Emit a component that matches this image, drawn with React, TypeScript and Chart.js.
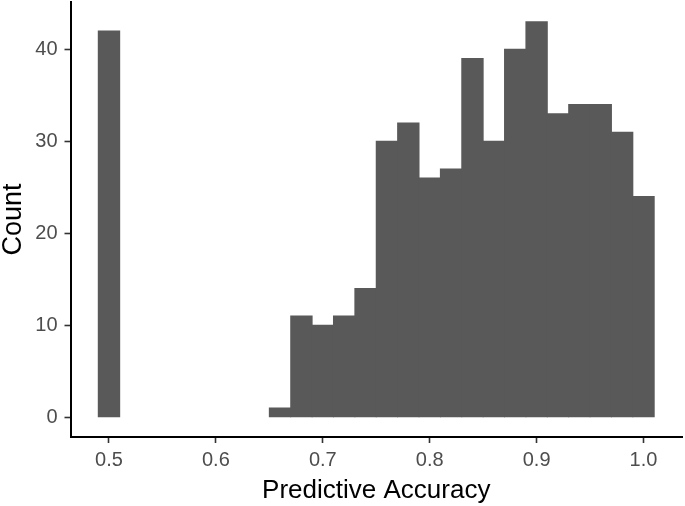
import React, { useEffect, useRef } from "react";
import { Chart, registerables } from "chart.js";

Chart.register(...registerables);

// Histogram bins (centres, binwidth 0.02) and counts
const binCenters = [0.5, 0.66, 0.68, 0.7, 0.72, 0.74, 0.76, 0.78, 0.8, 0.82, 0.84, 0.86, 0.88, 0.9, 0.92, 0.94, 0.96, 0.98, 1.0];
const counts = [42, 1, 11, 10, 11, 14, 30, 32, 26, 27, 39, 30, 40, 43, 33, 34, 34, 31, 24];
const xTicks = [0.5, 0.6, 0.7, 0.8, 0.9, 1.0];
const yTicks = [0, 10, 20, 30, 40];
const xTitle = "Predictive Accuracy";
const yTitle = "Count";

const FONT = "'Liberation Sans', Arial, Helvetica, sans-serif";

export default function App() {
  const ref = useRef<HTMLCanvasElement | null>(null);

  useEffect(() => {
    document.body.style.margin = "0";
    const canvas = ref.current;
    if (!canvas) return;
    const chart = new Chart(canvas, {
      type: "bar",
      data: {
        datasets: [
          {
            data: binCenters.map((x, i) => ({ x, y: counts[i] })),
            backgroundColor: "#595959",
            borderWidth: 0,
            inflateAmount: 0.5,
            barPercentage: 1,
            categoryPercentage: 1,
          },
        ],
      },
      options: {
        responsive: false,
        animation: false,
        devicePixelRatio: 1,
        layout: { padding: { top: 2, right: 3, left: 0, bottom: 0 } },
        plugins: { legend: { display: false }, tooltip: { enabled: false } },
        scales: {
          x: {
            type: "linear",
            min: 0.464,
            max: 1.036,
            offset: false,
            afterBuildTicks: (s: any) => {
              s.ticks = xTicks.map((v) => ({ value: v }));
            },
            afterFit: (s: any) => {
              s.height = 69;
              s.paddingLeft = 0;
              s.paddingRight = 0;
              s.paddingTop = 0;
              s.paddingBottom = 0;
            },
            ticks: {
              autoSkip: false,
              maxRotation: 0,
              padding: 7,
              color: "#4D4D4D",
              font: { family: FONT, size: 20, lineHeight: 1 },
              callback: (v: any) => Number(v).toFixed(1),
            },
            grid: {
              offset: false,
              drawOnChartArea: false,
              drawTicks: true,
              tickLength: 6,
              tickWidth: 1.6,
              tickColor: "#333333",
            },
            border: { display: true, color: "#000000", width: 2 },
            title: {
              display: true,
              text: xTitle,
              color: "#000000",
              font: { family: FONT, size: 26, lineHeight: 1 },
              padding: { top: 0, bottom: 2 },
            },
          },
          y: {
            type: "linear",
            min: -2.15,
            max: 45.15,
            afterBuildTicks: (s: any) => {
              s.ticks = yTicks.map((v) => ({ value: v }));
            },
            afterFit: (s: any) => {
              s.width = 70.5;
              s.paddingLeft = 0;
              s.paddingRight = 0;
              s.paddingTop = 0;
              s.paddingBottom = 0;
            },
            ticks: {
              padding: 7,
              color: "#4D4D4D",
              font: { family: FONT, size: 20, lineHeight: 1 },
              callback: (v: any) => String(v),
            },
            grid: {
              drawOnChartArea: false,
              drawTicks: true,
              tickLength: 6,
              tickWidth: 1.6,
              tickColor: "#333333",
            },
            border: { display: true, color: "#000000", width: 2 },
            title: {
              display: true,
              text: yTitle,
              color: "#000000",
              font: { family: FONT, size: 27, lineHeight: 1 },
              padding: { top: 0, bottom: 0 },
            },
          },
        },
      },
    });
    return () => chart.destroy();
  }, []);

  return (
    <div style={{ width: 685, height: 506, background: "#ffffff" }}>
      <canvas ref={ref} width={685} height={506} style={{ display: "block", width: 685, height: 506 }} />
    </div>
  );
}
